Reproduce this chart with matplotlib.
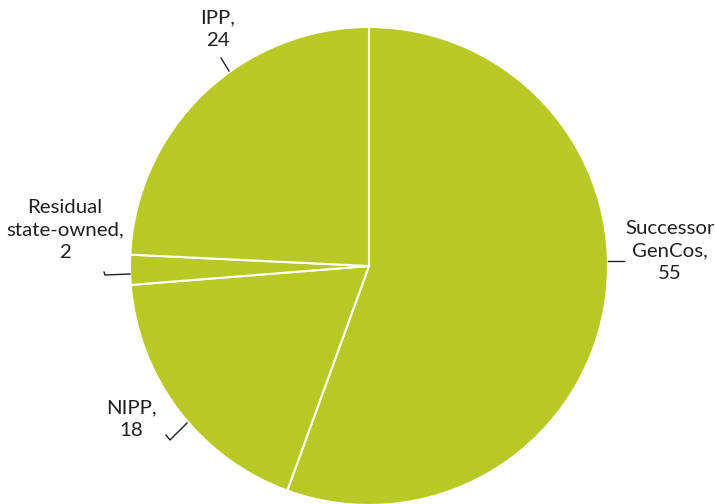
import matplotlib.pyplot as plt

plt.rcParams['font.family'] = ['Lato', 'DejaVu Sans']

# Data
labels = ['Successor\nGenCos,\n55', 'NIPP,\n18', 'Residual\nstate-owned,\n2', 'IPP,\n24']
values = [55, 18, 2, 24]

W, H = 716, 504
green = '#B8C926'
txt = '#231F20'


def px(x, y):
    # pixel coords (origin top-left) -> data coords
    return x, H - y


fig = plt.figure(figsize=(7.16, 5.04), dpi=100)
ax = fig.add_axes([0, 0, 1, 1])

ax.pie(values, startangle=90, counterclock=False, colors=[green] * len(values),
       center=px(369, 266), radius=239, frame=True,
       wedgeprops=dict(edgecolor='white', linewidth=1.5))
ax.set_xlim(0, W)
ax.set_ylim(0, H)
ax.set_aspect('equal')
ax.axis('off')

# label positions and leader lines (pixel coords)
label_pos = [(670, 251), (131, 419), (65, 230), (218, 29)]
leaders = [
    [(608, 261), (624, 261)],
    [(187, 423), (170, 440), (166, 435)],
    [(130, 274), (105, 275), (104, 272)],
    [(229, 71), (221, 58)],
]

for lab, pos, pts in zip(labels, label_pos, leaders):
    ax.text(*px(*pos), lab, ha='center', va='center', fontsize=14.7,
            color=txt, linespacing=1.38)
    xs = [p[0] for p in pts]
    ys = [H - p[1] for p in pts]
    ax.plot(xs, ys, color=txt, lw=1)

plt.savefig('out.png', dpi=100)
